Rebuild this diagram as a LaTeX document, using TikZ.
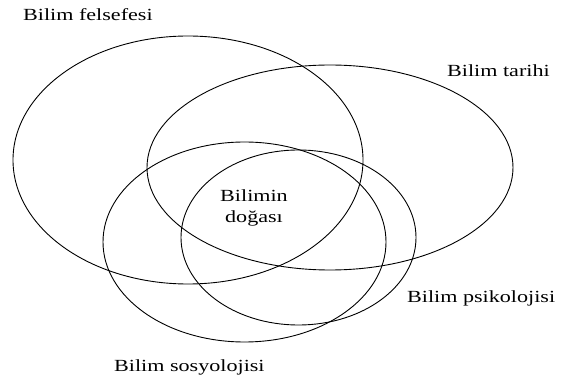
\documentclass[tikz,border=0pt]{standalone}
\usepackage{fontspec}
\setmainfont{Liberation Serif}[FakeStretch=1.3]
\usepackage{tikz}
\usetikzlibrary{positioning,shapes.geometric}

\begin{document}
\begin{tikzpicture}[x=1pt,y=1pt,
  venn/.style={ellipse,draw=black,line width=0.9pt,inner sep=0pt},
  lab/.style={font=\fontsize{17}{21}\selectfont,inner sep=0pt}]
\useasboundingbox (0,0) rectangle (573,380);
\node[venn, minimum width=350pt, minimum height=248pt] (felsefe) at (188,220) {};
\node[venn, minimum width=366pt, minimum height=205pt] (tarih) at (330,212.5) {};
\node[venn, minimum width=283pt, minimum height=200pt] (sosyoloji) at (244.5,138) {};
\node[venn, minimum width=235pt, minimum height=175pt] (psikoloji) at (298.5,142.5) {};
\node[lab, anchor=base west] (lfelsefe) at (23,359) {Bilim felsefesi};
\node[lab, anchor=base west] (ltarih) at (447,303) {Bilim tarihi};
\node[lab, anchor=base west] (lpsikoloji) at (407,77) {Bilim psikolojisi};
\node[lab, anchor=base west] (lsosyoloji) at (114,8) {Bilim sosyolojisi};
\node[lab, anchor=base] (ldoga) at (254,178) {Bilimin};
\node[lab, anchor=base] (ldoga2) at (254,157) {doğası};
\end{tikzpicture}
\end{document}
